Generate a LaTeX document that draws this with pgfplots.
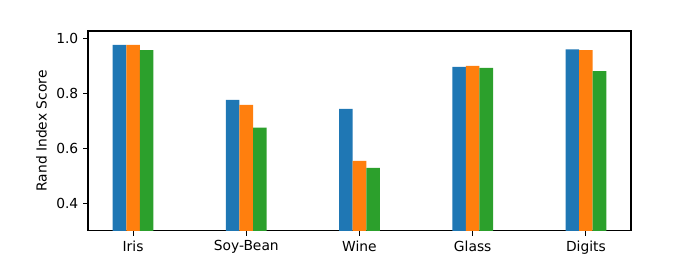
\documentclass[border=0pt]{standalone}
\usepackage{pgfplots}
\pgfplotsset{compat=1.18}
\usepackage{fontspec}
\setmainfont{DejaVu Sans}
\definecolor{c0}{HTML}{1F77B4}
\definecolor{c1}{HTML}{FF7F0E}
\definecolor{c2}{HTML}{2CA02C}
\begin{document}
\begin{tikzpicture}
\begin{axis}[
  scale only axis,
  width=392.4pt, height=144.5pt,
  xmin=-0.398, xmax=4.398,
  ymin=0.2993, ymax=1.0265,
  xtick={0,1,2,3,4},
  xticklabels={Iris,Soy-Bean,Wine,Glass,Digits},
  ytick={0.4,0.6,0.8,1.0},
  yticklabel style={/pgf/number format/.cd,fixed,fixed zerofill,precision=1},
  /pgf/number format/assume math mode=true,
  tick align=outside,
  major tick length=3.5pt,
  tick style={black, line width=0.8pt},
  axis line style={line width=0.8pt},
  xtick pos=bottom, ytick pos=left,
  ticklabel style={font=\fontsize{10}{12}\selectfont},
  ylabel={Rand Index Score},
  ylabel style={font=\fontsize{10}{12}\selectfont},
  bar width=0.12,
]
\addplot[ybar, bar shift=-0.12, fill=c0, draw=none] coordinates {(0,0.9757) (1,0.776) (2,0.743) (3,0.896) (4,0.960)};
\addplot[ybar, bar shift=0, fill=c1, draw=none] coordinates {(0,0.9757) (1,0.758) (2,0.554) (3,0.900) (4,0.957)};
\addplot[ybar, bar shift=0.12, fill=c2, draw=none] coordinates {(0,0.957) (1,0.675) (2,0.529) (3,0.892) (4,0.881)};
\end{axis}
\path (-63.6pt,-21pt) rectangle (442.3pt,166.9pt);
\end{tikzpicture}
\end{document}
